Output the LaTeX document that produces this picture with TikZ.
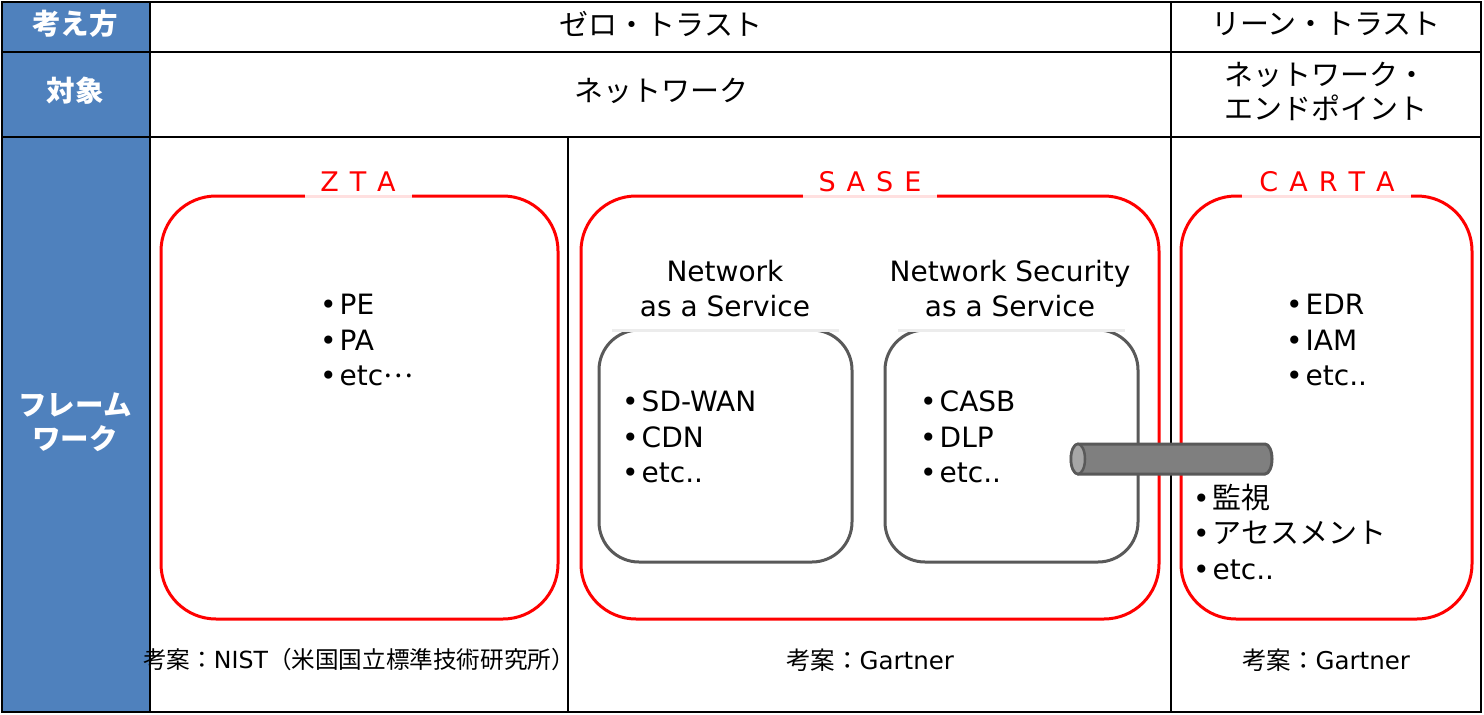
\documentclass[tikz,border=0pt]{standalone}
\usepackage{fontspec}
\setmainfont{DejaVu Sans}
\newfontfamily\jp{Noto Sans CJK JP}
\definecolor{hdrblue}{HTML}{4F81BD}
\definecolor{boxgray}{HTML}{595959}
\definecolor{cylfill}{HTML}{7F7F7F}
\definecolor{cylface}{HTML}{A6A6A6}
\newcommand{\bul}{•\hspace{3pt}}
\newcommand{\jpl}[1]{{\jp\fontsize{29}{35.5}\selectfont #1}}
\begin{document}
\begin{tikzpicture}[x=1pt,y=-1pt,
  grid/.style={draw=black, line width=2pt},
  redbox/.style={draw=red, line width=3pt, rounded corners=55pt},
  graybox/.style={draw=boxgray, line width=3pt, rounded corners=40pt},
  hdr/.style={text=white, font=\jp\bfseries\fontsize{28.5}{34}\selectfont, align=center, inner sep=0pt},
  txt/.style={font=\fontsize{28}{35}\selectfont, align=center, inner sep=0pt},
  jptxt/.style={font=\jp\fontsize{29}{34}\selectfont, align=center, inner sep=0pt},
  lst/.style={font=\fontsize{28}{35.5}\selectfont, align=left, anchor=west, inner sep=0pt},
  ttl/.style={text=red, font=\fontsize{27}{32}\selectfont, inner sep=0pt},
  foot/.style={font=\fontsize{24.5}{30}\selectfont, inner sep=0pt},
  cover/.style={fill=white},
  coverline/.style={line width=3pt}]
\useasboundingbox (0,0) rectangle (1484,715);
\fill[white] (0,0) rectangle (1484,715);
\fill[hdrblue] (2,2) rectangle (150,712);
% table grid
\draw[grid] (2,2) rectangle (1481,712);
\draw[grid] (2,52) -- (1481,52) (2,137) -- (1481,137)
  (150,2) -- (150,712) (1171,2) -- (1171,712) (568,137) -- (568,712);
% header column
\node[hdr] (h1) at (75,24) {考え方};
\node[hdr] (h2) at (75,91) {対象};
\node[hdr] (h3) at (75,422) {フレーム\\ワーク};
% rows 1 and 2
\node[jptxt] (zt) at (661,24) {ゼロ・トラスト};
\node[jptxt] (lt) at (1326,24) {リーン・トラスト};
\node[jptxt] (nw) at (661,91) {ネットワーク};
\node[jptxt, align=left] (nwep) at (1326,91) {ネットワーク・\\エンドポイント};
% framework boxes
\draw[redbox] (161,196) rectangle (558,619);
\draw[redbox] (581,196) rectangle (1159,619);
\draw[redbox] (1181,196) rectangle (1472,619);
\fill[cover] (305,186) rectangle (412,199);
\draw[coverline, red!12] (305,196) -- (412,196);
\fill[cover] (803,186) rectangle (937,199);
\draw[coverline, red!12] (803,196) -- (937,196);
\fill[cover] (1242,186) rectangle (1411,199);
\draw[coverline, red!12] (1242,196) -- (1411,196);
\node[ttl] (zta) at (358,182) {Z\hspace{11pt}T\hspace{11pt}A};
\node[ttl] (sase) at (870,182) {S\hspace{11pt}A\hspace{11pt}S\hspace{11pt}E};
\node[ttl] (carta) at (1327,182) {C\hspace{11pt}A\hspace{11pt}R\hspace{11pt}T\hspace{11pt}A};
% SASE inner boxes
\draw[graybox] (599,330) rectangle (852,562);
\draw[graybox] (885,330) rectangle (1138,562);
\fill[cover] (612,318) rectangle (839,331);
\draw[coverline, gray!15] (612,330) -- (839,330);
\fill[cover] (898,318) rectangle (1125,331);
\draw[coverline, gray!15] (898,330) -- (1125,330);
\node[txt] (naas) at (725,289) {Network\\as a Service};
\node[txt] (nsaas) at (1010,289) {Network Security\\as a Service};
% lists
\node[lst] (ztal) at (320,340) {\bul PE\\\bul PA\\\bul etc\raisebox{0.3em}{\jp …}};
\node[lst] (naasl) at (622,437) {\bul SD-WAN\\\bul CDN\\\bul etc..};
\node[lst] (nsaasl) at (920,437) {\bul CASB\\\bul DLP\\\bul etc..};
\node[lst] (cartal) at (1286,340) {\bul EDR\\\bul IAM\\\bul etc..};
\node[lst] (cartal2) at (1193,532) {\bul\jpl{監視}\\\bul\jpl{アセスメント}\\\bul etc..};
% cylinder
\draw[draw=boxgray, fill=cylfill, line width=3pt]
  (1078,444) -- (1265,444)
  arc[start angle=-90, end angle=90, x radius=7, y radius=15]
  -- (1078,474)
  arc[start angle=90, end angle=270, x radius=7, y radius=15] -- cycle;
\draw[draw=boxgray, fill=cylface, line width=2.5pt] (1078,459) ellipse [x radius=7, y radius=15];
% footers
\node[foot, font=\fontsize{23.6}{30}\selectfont] (f1) at (359,660) {{\jp 考案：}NIST{\jp （米国国立標準技術研究所）}};
\node[foot] (f2) at (870,660) {{\jp 考案：}Gartner};
\node[foot] (f3) at (1326,660) {{\jp 考案：}Gartner};
\end{tikzpicture}
\end{document}
